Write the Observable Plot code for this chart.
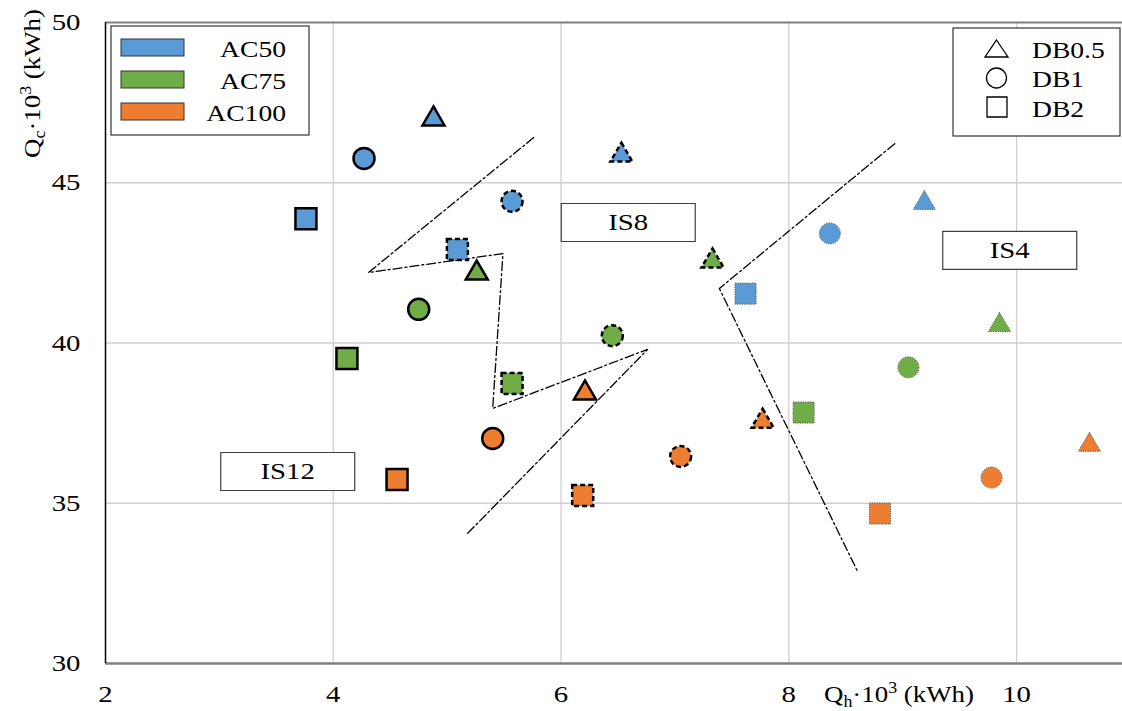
<!DOCTYPE html>
<html><head><meta charset="utf-8">
<script src="https://cdn.jsdelivr.net/npm/d3@7"></script>
<script src="https://cdn.jsdelivr.net/npm/@observablehq/plot@0.6"></script>
<style>body{margin:0;background:#fff} #chart{width:1122px;height:711px}</style>
</head><body><div id="chart"></div>
<script>
const acLevels = ["AC50", "AC75", "AC100"];
const acColors = ["#5B9BD5", "#70AD47", "#ED7D31"];
const dbLevels = ["DB0.5", "DB1", "DB2"];
const xTicks = [2, 4, 6, 8, 10];
const yTicks = [30, 35, 40, 45, 50];
// order in each group: AC50 (DB0.5, DB1, DB2), AC75 (...), AC100 (...)
const is12Qh = [4.88, 4.27, 3.76, 5.26, 4.75, 4.12, 6.21, 5.40, 4.56];
const is12Qc = [47.07, 45.76, 43.88, 42.26, 41.05, 39.52, 38.52, 37.02, 35.74];
const is8Qh = [6.53, 5.57, 5.09, 7.33, 6.45, 5.57, 7.77, 7.05, 6.19];
const is8Qc = [45.94, 44.42, 42.92, 42.64, 40.23, 38.74, 37.64, 36.46, 35.24];
const is4Qh = [9.19, 8.36, 7.62, 9.85, 9.05, 8.13, 10.64, 9.78, 8.80];
const is4Qc = [44.45, 43.42, 41.54, 40.64, 39.24, 37.83, 36.90, 35.80, 34.68];
const boundaryAQh = [5.76, 4.31, 5.49, 5.40, 6.76, 5.18];
const boundaryAQc = [46.41, 42.20, 42.79, 37.96, 39.80, 34.06];
const boundaryBQh = [8.93, 7.39, 8.60];
const boundaryBQc = [46.22, 41.70, 32.90];
const regionNames = ["IS12", "IS8", "IS4"];
const regionQh = [3.60, 6.59, 9.94];
const regionQc = [35.99, 43.76, 42.89];

const FONT = '"Liberation Serif", "Times New Roman", serif';
const STRETCH = 1.2;

const triSym = {draw(c) { c.moveTo(0, -10); c.lineTo(11, 9); c.lineTo(-11, 9); c.closePath(); }};
const circSym = {draw(c) { c.moveTo(10.5, 0); c.arc(0, 0, 10.5, 0, 2 * Math.PI); c.closePath(); }};
const sqSym = {draw(c) { c.rect(-10.5, -10.5, 21, 21); }};
const boxSym = {draw(c) { c.rect(-67, -19, 134, 38); }};
const symFor = {"DB0.5": triSym, "DB1": circSym, "DB2": sqSym};

function pts(qh, qc) {
  return qh.map((x, i) => ({x, y: qc[i], ac: acLevels[Math.floor(i / 3)], db: dbLevels[i % 3]}));
}
function path(qh, qc) { return qh.map((x, i) => ({x, y: qc[i]})); }

const groups = [
  {pts: pts(is12Qh, is12Qc), stroke: "#000", sw: 2.5, dash: "none"},
  {pts: pts(is8Qh, is8Qc), stroke: "#000", sw: 2.5, dash: "5,3"},
  {pts: pts(is4Qh, is4Qc), stroke: "#555", sw: 1, dash: "1.2,1.2"}
];

const lineStyle = {x: "x", y: "y", stroke: "#000", strokeWidth: 1.3, strokeDasharray: "9,3,2,3"};

const plot = Plot.plot({
  width: 1122, height: 711,
  marginLeft: 105, marginRight: 0, marginTop: 22, marginBottom: 48,
  style: {fontFamily: FONT, fontSize: "24px", color: "#000", background: "#fff"},
  x: {domain: [2, 10.93], label: null},
  y: {domain: [30, 50], label: null},
  color: {domain: acLevels, range: acColors},
  marks: [
    Plot.gridX([4, 6, 8, 10], {stroke: "#d0d0d0", strokeOpacity: 1, strokeWidth: 1.3}),
    Plot.gridY([35, 40, 45], {stroke: "#d0d0d0", strokeOpacity: 1, strokeWidth: 1.3}),
    Plot.ruleY([50], {stroke: "#808080", strokeWidth: 2}),
    Plot.ruleY([30], {stroke: "#808080", strokeWidth: 2.5}),
    Plot.ruleX([2], {stroke: "#000", strokeWidth: 1.5}),
    Plot.axisX(xTicks, {tickSize: 0, tickPadding: 21, label: null, fontSize: 24, tickFormat: d => String(d)}),
    Plot.axisY(yTicks, {tickSize: 0, tickPadding: 25, label: null, fontSize: 24, tickFormat: d => String(d)}),
    Plot.line(path(boundaryAQh, boundaryAQc), lineStyle),
    Plot.line(path(boundaryBQh, boundaryBQc), lineStyle),
    Plot.dot(regionNames, {x: regionQh, y: regionQc, symbol: boxSym, r: 10, fill: "#fff", stroke: "#404040", strokeWidth: 1.2}),
    Plot.text(regionNames, {x: regionQh, y: regionQc, text: d => d, fontSize: 24, fill: "#000"}),
    ...groups.flatMap(g => dbLevels.map(db => Plot.dot(g.pts.filter(p => p.db === db), {
      x: "x", y: "y", fill: "ac", symbol: symFor[db], r: 10,
      stroke: g.stroke, strokeWidth: g.sw, strokeDasharray: g.dash
    })))
  ]
});
document.getElementById("chart").appendChild(plot);

// Horizontal stretch of all Plot text about its anchor point, as in the reference
function stretch(t, s) {
  const tr = t.getAttribute("transform") || "";
  t.setAttribute("transform", `${tr} scale(${s},1)`);
}
plot.querySelectorAll("text").forEach(t => stretch(t, STRETCH));

const svg = d3.select(plot);
const extra = svg.append("g").attr("font-family", FONT).attr("fill", "#000");

// Left legend (AC levels)
extra.append("rect").attr("x", 111).attr("y", 26).attr("width", 198).attr("height", 109)
  .attr("fill", "#fff").attr("stroke", "#333").attr("stroke-width", 1.2);
acLevels.forEach((ac, i) => {
  extra.append("rect").attr("x", 121).attr("y", 39 + i * 32).attr("width", 63).attr("height", 17)
    .attr("fill", acColors[i]).attr("stroke", "#333").attr("stroke-width", 1);
  extra.append("text").attr("transform", `translate(286,${57 + i * 32}) scale(${STRETCH},1)`).attr("text-anchor", "end")
    .attr("font-size", 23).text(ac);
});

// Right legend (DB levels)
extra.append("rect").attr("x", 953).attr("y", 28).attr("width", 167).attr("height", 108)
  .attr("fill", "#fff").attr("stroke", "#333").attr("stroke-width", 1.2);
extra.append("path").attr("d", "M996.5,40 L1008,57 L985,57 Z").attr("fill", "none").attr("stroke", "#000").attr("stroke-width", 1.3);
extra.append("circle").attr("cx", 996.5).attr("cy", 78).attr("r", 10).attr("fill", "none").attr("stroke", "#000").attr("stroke-width", 1.3);
extra.append("path").attr("d", "M987,97 h20 v20 h-20 Z").attr("fill", "none").attr("stroke", "#000").attr("stroke-width", 1.3);
const dbBase = [58, 87, 117];
dbLevels.forEach((db, i) => {
  extra.append("text").attr("transform", `translate(1032,${dbBase[i]}) scale(${STRETCH},1)`).attr("text-anchor", "start")
    .attr("font-size", 23).text(db);
});

// Axis titles
function title(g, transform, sub) {
  const t = g.append("text").attr("transform", transform).attr("text-anchor", "start").attr("font-size", 24);
  t.append("tspan").text("Q");
  t.append("tspan").attr("font-size", 16).attr("dy", 5).text(sub);
  t.append("tspan").attr("dy", -5).text("·10");
  t.append("tspan").attr("font-size", 16).attr("dy", -9).text("3");
  t.append("tspan").attr("dy", 9).text(" (kWh)");
}
title(extra, "translate(40,158) rotate(-90) scale(1.12,1)", "c");
title(extra, "translate(824,702) scale(1.12,1)", "h");
</script>
</body></html>
